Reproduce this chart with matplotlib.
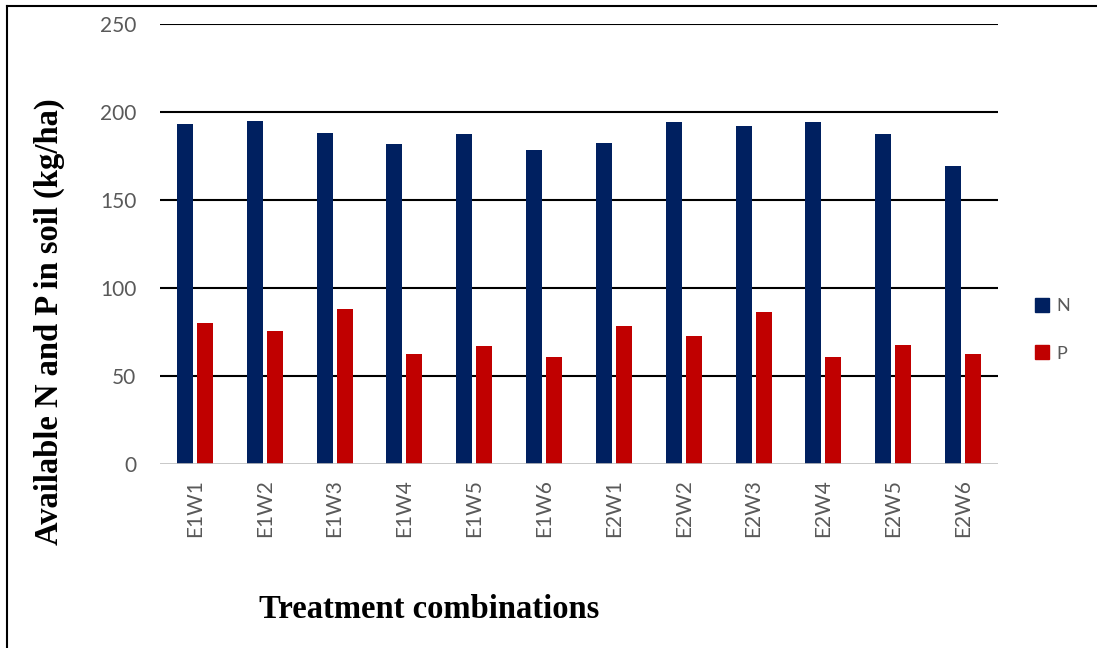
import matplotlib
matplotlib.use("Agg")
import matplotlib.pyplot as plt
import numpy as np
from matplotlib.lines import Line2D

categories = ["E1W1", "E1W2", "E1W3", "E1W4", "E1W5", "E1W6",
              "E2W1", "E2W2", "E2W3", "E2W4", "E2W5", "E2W6"]
N_vals = [193.2, 195.0, 187.9, 181.9, 187.3, 178.6, 182.3, 194.3, 191.9, 194.3, 187.7, 169.6]
P_vals = [80.0, 75.6, 88.1, 62.5, 67.2, 61.0, 78.4, 72.9, 86.4, 61.0, 67.8, 62.3]
y_ticks = [0, 50, 100, 150, 200, 250]

W, H = 1097, 648
fig = plt.figure(figsize=(W / 100, H / 100), dpi=100)
ax = fig.add_axes([160 / W, 1 - 464 / H, (998 - 160) / W, (464 - 24) / H])

x = np.arange(len(categories))
bw = 0.229
gap = 0.057
ax.bar(x - (bw + gap) / 2, N_vals, width=bw, color="#002060", label="N", zorder=3)
ax.bar(x + (bw + gap) / 2, P_vals, width=bw, color="#C00000", label="P", zorder=3)

ax.set_xlim(-0.5, len(categories) - 0.5)
ax.set_ylim(0, 250)
ax.set_yticks(y_ticks)
for t in y_ticks[1:]:
    ax.axhline(t, color="black", lw=1.5, zorder=1)
ax.axhline(0, color="#bfbfbf", lw=1.2, zorder=4)
for s in ax.spines.values():
    s.set_visible(False)

ax.set_xticks(x)
ax.set_xticklabels(categories, rotation=90, fontsize=15, color="#595959", family="Lato")
ax.tick_params(axis="x", length=0, pad=11)
ax.tick_params(axis="y", length=0, pad=17, labelsize=15, labelcolor="#595959")
for lbl in ax.get_yticklabels():
    lbl.set_family("Lato")

fig.text(49 / W, 1 - 322 / H, "Available N and P in soil (kg/ha)", rotation=90,
         ha="center", va="center", fontsize=23.5, fontweight="bold", family="Liberation Serif")
fig.text(429 / W, 1 - 609 / H, "Treatment combinations", ha="center", va="center",
         fontsize=23.5, fontweight="bold", family="Liberation Serif")

handles = [Line2D([], [], marker="s", ls="none", color="#002060", markersize=10.5),
           Line2D([], [], marker="s", ls="none", color="#C00000", markersize=10.5)]
leg = fig.legend(handles, ["N", "P"], loc="center left", bbox_to_anchor=(1035 / W, 1 - 330 / H),
                 frameon=False, handlelength=0.8, handletextpad=0.4, labelspacing=1.72,
                 borderaxespad=0, borderpad=0, prop={"family": "Lato", "size": 13})
for t in leg.get_texts():
    t.set_color("#595959")

# outer border (left and top visible)
fig.add_artist(Line2D([7 / W, 7 / W], [0, 1 - 6 / H], transform=fig.transFigure, color="black", lw=1.5))
fig.add_artist(Line2D([7 / W, 1], [1 - 6 / H, 1 - 6 / H], transform=fig.transFigure, color="black", lw=1.5))

fig.savefig("out.png", dpi=100)
